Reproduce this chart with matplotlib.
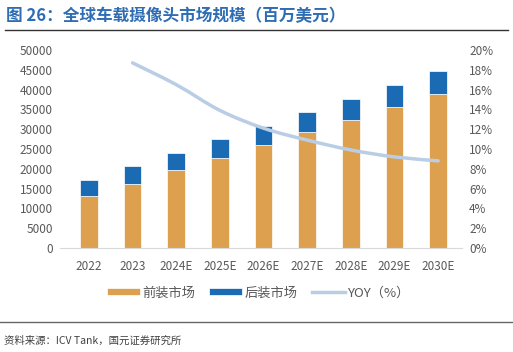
import numpy as np
import matplotlib
matplotlib.use("Agg")
from matplotlib import pyplot as plt
from matplotlib.path import Path
from matplotlib.patches import PathPatch

plt.rcParams['font.family'] = ['Noto Sans CJK SC', 'DejaVu Sans']

years = ['2022', '2023', '2024E', '2025E', '2026E', '2027E', '2028E', '2029E', '2030E']
front = [13100, 16200, 19600, 22800, 26000, 29200, 32400, 35600, 38800]
after = [4100, 4400, 4500, 4700, 4900, 5100, 5300, 5600, 6000]
yoy_years = years[1:]
yoy = [18.7, 16.5, 13.9, 12.1, 10.9, 9.9, 9.2, 8.8]

c_front = '#DDA04E'
c_after = '#1A6BB3'
c_line = '#B9CDE5'
c_text = '#595959'

fig = plt.figure(figsize=(5.13, 3.52), dpi=100)
ax = fig.add_axes([0.117, 0.2955, 0.784, 0.5625])
ax2 = ax.twinx()

x = np.arange(len(years))
ax.bar(x, front, width=0.4, color=c_front, edgecolor='white', linewidth=0.5, label='前装市场', zorder=2)
ax.bar(x, after, width=0.4, bottom=front, color=c_after, edgecolor='white', linewidth=0.5, label='后装市场', zorder=2)

# smooth yoy line (Catmull-Rom through the points, drawn as bezier path)
xs = x[1:].astype(float)
ys = np.array(yoy, dtype=float)
verts = [(xs[0], ys[0])]
codes = [Path.MOVETO]
for i in range(len(xs) - 1):
    p0 = (xs[max(i - 1, 0)], ys[max(i - 1, 0)])
    p1 = (xs[i], ys[i])
    p2 = (xs[i + 1], ys[i + 1])
    p3 = (xs[min(i + 2, len(xs) - 1)], ys[min(i + 2, len(xs) - 1)])
    c1 = (p1[0] + (p2[0] - p0[0]) / 6, p1[1] + (p2[1] - p0[1]) / 6)
    c2 = (p2[0] - (p3[0] - p1[0]) / 6, p2[1] - (p3[1] - p1[1]) / 6)
    verts += [c1, c2, p2]
    codes += [Path.CURVE4] * 3
ax2.add_patch(PathPatch(Path(verts, codes), facecolor='none', edgecolor=c_line,
                        linewidth=2.5, capstyle='round', zorder=3))
ax2.plot([], [], color=c_line, linewidth=2.5, label='YOY（%）')

ax.set_xlim(-0.66, 8.55)
ax.set_ylim(0, 50000)
ax2.set_ylim(0, 20)
ax.set_yticks(range(0, 50001, 5000))
ax2.set_yticks(range(0, 21, 2))
ax2.set_yticklabels([f'{v}%' for v in range(0, 21, 2)])
ax.set_xticks(x)
ax.set_xticklabels(years)

for a in (ax, ax2):
    for s in a.spines.values():
        s.set_visible(False)
    a.tick_params(length=0, labelsize=8.5, colors=c_text)
ax.spines['bottom'].set_visible(True)
ax.spines['bottom'].set_color('#D9D9D9')
ax.tick_params(axis='x', pad=9)
ax.tick_params(axis='y', pad=5)
ax2.tick_params(axis='y', pad=5)

h1, l1 = ax.get_legend_handles_labels()
h2, l2 = ax2.get_legend_handles_labels()
fig.legend(h1 + h2, l1 + l2, loc='center', bbox_to_anchor=(0.503, 0.168), ncol=3,
           frameon=False, fontsize=9.5, handlelength=2.5, handleheight=0.45,
           columnspacing=1.1, handletextpad=0.15, labelcolor=c_text)

fig.text(0.012, 0.955, '图 26：全球车载摄像头市场规模（百万美元）', fontsize=12,
         fontweight='bold', color='#2E6DB4', va='center')
fig.add_artist(plt.Line2D([0.01, 0.99], [0.915, 0.915], color='#333333', linewidth=1))
fig.add_artist(plt.Line2D([0.0, 1.0], [0.085, 0.085], color='#666666', linewidth=1))
fig.text(0.008, 0.033, '资料来源：ICV Tank，国元证券研究所', fontsize=7.5, color='#404040', va='center')

fig.savefig('out.png', dpi=100)
